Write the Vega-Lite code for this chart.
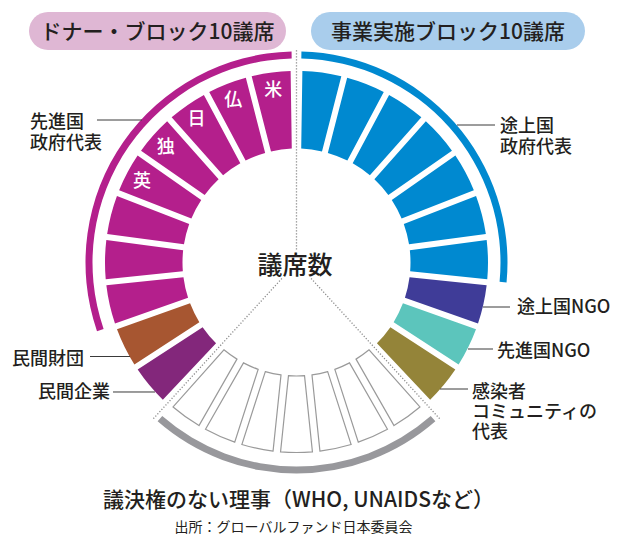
{
  "$schema": "https://vega.github.io/schema/vega-lite/v6.json",
  "width": 619,
  "height": 536,
  "autosize": {"type": "none"},
  "padding": 0,
  "background": "white",
  "config": {"view": {"stroke": null}, "text": {"font": "Noto Sans CJK JP"}},
  "datasets": {
    "seats": [
      {"block": "ドナー", "category": "民間企業", "o": 1, "label": "", "seats": 1},
      {"block": "ドナー", "category": "民間財団", "o": 2, "label": "", "seats": 1},
      {"block": "ドナー", "category": "先進国政府代表", "o": 3, "label": "", "seats": 1},
      {"block": "ドナー", "category": "先進国政府代表", "o": 4, "label": "", "seats": 1},
      {"block": "ドナー", "category": "先進国政府代表", "o": 5, "label": "", "seats": 1},
      {"block": "ドナー", "category": "先進国政府代表", "o": 6, "label": "英", "seats": 1},
      {"block": "ドナー", "category": "先進国政府代表", "o": 7, "label": "独", "seats": 1},
      {"block": "ドナー", "category": "先進国政府代表", "o": 8, "label": "日", "seats": 1},
      {"block": "ドナー", "category": "先進国政府代表", "o": 9, "label": "仏", "seats": 1},
      {"block": "ドナー", "category": "先進国政府代表", "o": 10, "label": "米", "seats": 1},
      {"block": "事業実施", "category": "途上国政府代表", "o": 1, "label": "", "seats": 1},
      {"block": "事業実施", "category": "途上国政府代表", "o": 2, "label": "", "seats": 1},
      {"block": "事業実施", "category": "途上国政府代表", "o": 3, "label": "", "seats": 1},
      {"block": "事業実施", "category": "途上国政府代表", "o": 4, "label": "", "seats": 1},
      {"block": "事業実施", "category": "途上国政府代表", "o": 5, "label": "", "seats": 1},
      {"block": "事業実施", "category": "途上国政府代表", "o": 6, "label": "", "seats": 1},
      {"block": "事業実施", "category": "途上国政府代表", "o": 7, "label": "", "seats": 1},
      {"block": "事業実施", "category": "途上国NGO", "o": 8, "label": "", "seats": 1},
      {"block": "事業実施", "category": "先進国NGO", "o": 9, "label": "", "seats": 1},
      {"block": "事業実施", "category": "感染者コミュニティの代表", "o": 10, "label": "", "seats": 1},
      {"block": "議決権なし", "category": "議決権のない理事", "o": 1, "label": "", "seats": 1},
      {"block": "議決権なし", "category": "議決権のない理事", "o": 2, "label": "", "seats": 1},
      {"block": "議決権なし", "category": "議決権のない理事", "o": 3, "label": "", "seats": 1},
      {"block": "議決権なし", "category": "議決権のない理事", "o": 4, "label": "", "seats": 1},
      {"block": "議決権なし", "category": "議決権のない理事", "o": 5, "label": "", "seats": 1},
      {"block": "議決権なし", "category": "議決権のない理事", "o": 6, "label": "", "seats": 1},
      {"block": "議決権なし", "category": "議決権のない理事", "o": 7, "label": "", "seats": 1}
    ],
    "dividers": [
      {"x": 0, "y": 0.068, "x2": 0, "y2": 1.112},
      {"x": -0.0763, "y": -0.0833, "x2": -0.7513, "y2": -0.8199},
      {"x": 0.0763, "y": -0.0833, "x2": 0.7513, "y2": -0.8199}
    ],
    "pills": [
      {"block": "ドナー", "x": -1.3969, "x2": -0.0548, "y": 1.3081, "y2": 1.1097},
      {"block": "事業実施", "x": 0.0757, "x2": 1.5065, "y": 1.3081, "y2": 1.1097}
    ],
    "notes": [
      {"role": "header", "text": "ドナー・ブロック10議席", "x": -0.7258, "y": 1.2},
      {"role": "header", "text": "事業実施ブロック10議席", "x": 0.7911, "y": 1.2},
      {"role": "center", "text": "議席数", "x": -0.008, "y": -0.0157},
      {"role": "caption", "text": "議決権のない理事（WHO, UNAIDSなど）", "x": 0.0104, "y": -1.2439},
      {"role": "source", "text": "出所：グローバルファンド日本委員会", "x": -0.0157, "y": -1.3875},
      {"role": "labelL", "text": "先進国", "x": -1.3916, "y": 0.7775},
      {"role": "labelL", "text": "政府代表", "x": -1.3916, "y": 0.6653},
      {"role": "labelR", "text": "民間財団", "x": -1.1097, "y": -0.4627},
      {"role": "labelR", "text": "民間企業", "x": -0.9739, "y": -0.635},
      {"role": "labelL", "text": "途上国", "x": 1.0627, "y": 0.7567},
      {"role": "labelL", "text": "政府代表", "x": 1.0627, "y": 0.6444},
      {"role": "labelL", "text": "途上国NGO", "x": 1.1514, "y": -0.1911},
      {"role": "labelL", "text": "先進国NGO", "x": 1.047, "y": -0.4183},
      {"role": "labelL", "text": "感染者", "x": 0.9164, "y": -0.635},
      {"role": "labelL", "text": "コミュニティの", "x": 0.9164, "y": -0.7368},
      {"role": "labelL", "text": "代表", "x": 0.9164, "y": -0.8439}
    ],
    "leaders": [
      {"x": -1.0418, "x2": -0.8068, "y": 0.7441},
      {"x": -1.0783, "x2": -0.8695, "y": -0.4909},
      {"x": -0.9582, "x2": -0.7389, "y": -0.6762},
      {"x": 0.8381, "x2": 1.0366, "y": 0.718},
      {"x": 0.9739, "x2": 1.1149, "y": -0.2324},
      {"x": 0.8956, "x2": 1.0261, "y": -0.4517},
      {"x": 0.7493, "x2": 0.8956, "y": -0.6606}
    ]
  },
  "layer": [
    {
      "data": {"name": "dividers"},
      "mark": {"type": "rule", "stroke": "#8c8c8c", "strokeWidth": 1.3, "strokeDash": [1.2, 1.8]},
      "encoding": {
        "x": {"field": "x", "type": "quantitative", "scale": {"domain": [-1.5483, 1.6841], "nice": false}, "axis": null},
        "y": {"field": "y", "type": "quantitative", "scale": {"domain": [-1.4282, 1.3708], "nice": false}, "axis": null},
        "x2": {"field": "x2"},
        "y2": {"field": "y2"}
      }
    },
    {
      "data": {"name": "pills"},
      "mark": {"type": "rect", "cornerRadius": 19},
      "encoding": {
        "x": {"field": "x", "type": "quantitative", "scale": {"domain": [-1.5483, 1.6841], "nice": false}, "axis": null},
        "y": {"field": "y", "type": "quantitative", "scale": {"domain": [-1.4282, 1.3708], "nice": false}, "axis": null},
        "x2": {"field": "x2"},
        "y2": {"field": "y2"},
        "fill": {"field": "block", "type": "nominal", "scale": {"domain": ["ドナー", "事業実施"], "range": ["#dfb7d4", "#a9cdec"]}, "legend": null}
      }
    },
    {
      "data": {"name": "seats"},
      "transform": [{"filter": "datum.block === 'ドナー'"}],
      "mark": {"type": "arc", "radius": 191.5, "radius2": 114, "padAngle": 0.027},
      "encoding": {
        "x": {"datum": 0, "type": "quantitative", "scale": {"domain": [-1.5483, 1.6841], "nice": false}, "axis": null},
        "y": {"datum": 0, "type": "quantitative", "scale": {"domain": [-1.4282, 1.3708], "nice": false}, "axis": null},
        "theta": {"field": "seats", "type": "quantitative", "stack": true, "scale": {"domain": [0, 10], "range": [-2.3848, -0.015]}},
        "order": {"field": "o", "type": "quantitative"},
        "color": {"field": "category", "type": "nominal", "legend": null, "scale": {"domain": ["先進国政府代表", "民間財団", "民間企業", "途上国政府代表", "途上国NGO", "先進国NGO", "感染者コミュニティの代表"], "range": ["#b41f8c", "#a75631", "#83277b", "#0089d0", "#3f3c98", "#5cc5bc", "#948439"]}}
      }
    },
    {
      "data": {"name": "seats"},
      "transform": [{"filter": "datum.block === 'ドナー'"}],
      "mark": {"type": "text", "radius": 175, "fontSize": 18, "fontWeight": 500, "fill": "white", "align": "center", "baseline": "middle", "dy": 1.5},
      "encoding": {
        "x": {"datum": 0, "type": "quantitative", "scale": {"domain": [-1.5483, 1.6841], "nice": false}, "axis": null},
        "y": {"datum": 0, "type": "quantitative", "scale": {"domain": [-1.4282, 1.3708], "nice": false}, "axis": null},
        "theta": {"field": "seats", "type": "quantitative", "stack": true, "scale": {"domain": [0, 10], "range": [-2.3848, -0.015]}},
        "order": {"field": "o", "type": "quantitative"},
        "text": {"field": "label"}
      }
    },
    {
      "data": {"name": "seats"},
      "transform": [
        {"filter": "datum.block === 'ドナー'"},
        {"aggregate": [{"op": "sum", "field": "seats", "as": "seats"}, {"op": "min", "field": "o", "as": "o"}], "groupby": ["category"]}
      ],
      "mark": {"type": "arc", "radius": 211, "radius2": 204, "padAngle": 0.012},
      "encoding": {
        "x": {"datum": 0, "type": "quantitative", "scale": {"domain": [-1.5483, 1.6841], "nice": false}, "axis": null},
        "y": {"datum": 0, "type": "quantitative", "scale": {"domain": [-1.4282, 1.3708], "nice": false}, "axis": null},
        "theta": {"field": "seats", "type": "quantitative", "stack": true, "scale": {"domain": [0, 10], "range": [-2.3848, -0.015]}},
        "order": {"field": "o", "type": "quantitative"},
        "color": {"field": "category", "type": "nominal", "legend": null, "scale": {"domain": ["先進国政府代表", "民間財団", "民間企業", "途上国政府代表", "途上国NGO", "先進国NGO", "感染者コミュニティの代表"], "range": ["#b41f8c", "#a75631", "#83277b", "#0089d0", "#3f3c98", "#5cc5bc", "#948439"]}},
        "opacity": {"condition": {"test": "datum.category === '先進国政府代表'", "value": 1}, "value": 0}
      }
    },
    {
      "data": {"name": "seats"},
      "transform": [{"filter": "datum.block === '事業実施'"}],
      "mark": {"type": "arc", "radius": 191.5, "radius2": 114, "padAngle": 0.027},
      "encoding": {
        "x": {"datum": 0, "type": "quantitative", "scale": {"domain": [-1.5483, 1.6841], "nice": false}, "axis": null},
        "y": {"datum": 0, "type": "quantitative", "scale": {"domain": [-1.4282, 1.3708], "nice": false}, "axis": null},
        "theta": {"field": "seats", "type": "quantitative", "stack": true, "scale": {"domain": [0, 10], "range": [0.015, 2.3848]}},
        "order": {"field": "o", "type": "quantitative"},
        "color": {"field": "category", "type": "nominal", "legend": null, "scale": {"domain": ["先進国政府代表", "民間財団", "民間企業", "途上国政府代表", "途上国NGO", "先進国NGO", "感染者コミュニティの代表"], "range": ["#b41f8c", "#a75631", "#83277b", "#0089d0", "#3f3c98", "#5cc5bc", "#948439"]}}
      }
    },
    {
      "data": {"name": "seats"},
      "transform": [
        {"filter": "datum.block === '事業実施'"},
        {"aggregate": [{"op": "sum", "field": "seats", "as": "seats"}, {"op": "min", "field": "o", "as": "o"}], "groupby": ["category"]}
      ],
      "mark": {"type": "arc", "radius": 211, "radius2": 204, "padAngle": 0.012},
      "encoding": {
        "x": {"datum": 0, "type": "quantitative", "scale": {"domain": [-1.5483, 1.6841], "nice": false}, "axis": null},
        "y": {"datum": 0, "type": "quantitative", "scale": {"domain": [-1.4282, 1.3708], "nice": false}, "axis": null},
        "theta": {"field": "seats", "type": "quantitative", "stack": true, "scale": {"domain": [0, 10], "range": [0.015, 2.3848]}},
        "order": {"field": "o", "type": "quantitative"},
        "color": {"field": "category", "type": "nominal", "legend": null, "scale": {"domain": ["先進国政府代表", "民間財団", "民間企業", "途上国政府代表", "途上国NGO", "先進国NGO", "感染者コミュニティの代表"], "range": ["#b41f8c", "#a75631", "#83277b", "#0089d0", "#3f3c98", "#5cc5bc", "#948439"]}},
        "opacity": {"condition": {"test": "datum.category === '途上国政府代表'", "value": 1}, "value": 0}
      }
    },
    {
      "data": {"name": "seats"},
      "transform": [{"filter": "datum.block === '議決権なし'"}],
      "mark": {"type": "arc", "radius": 190, "radius2": 113.5, "padAngle": 0.034, "fill": "white", "stroke": "#9a9a9a", "strokeWidth": 1.2},
      "encoding": {
        "x": {"datum": 0, "type": "quantitative", "scale": {"domain": [-1.5483, 1.6841], "nice": false}, "axis": null},
        "y": {"datum": 0, "type": "quantitative", "scale": {"domain": [-1.4282, 1.3708], "nice": false}, "axis": null},
        "theta": {"field": "seats", "type": "quantitative", "stack": true, "scale": {"domain": [0, 7], "range": [2.4148, 3.8684]}},
        "order": {"field": "o", "type": "quantitative"}
      }
    },
    {
      "data": {"name": "seats"},
      "transform": [
        {"filter": "datum.block === '議決権なし'"},
        {"aggregate": [{"op": "sum", "field": "seats", "as": "seats"}, {"op": "min", "field": "o", "as": "o"}], "groupby": ["category"]}
      ],
      "mark": {"type": "arc", "radius": 211, "radius2": 204, "padAngle": 0.012, "fill": "#98989c"},
      "encoding": {
        "x": {"datum": 0, "type": "quantitative", "scale": {"domain": [-1.5483, 1.6841], "nice": false}, "axis": null},
        "y": {"datum": 0, "type": "quantitative", "scale": {"domain": [-1.4282, 1.3708], "nice": false}, "axis": null},
        "theta": {"field": "seats", "type": "quantitative", "stack": true, "scale": {"domain": [0, 7], "range": [2.4148, 3.8684]}},
        "order": {"field": "o", "type": "quantitative"}
      }
    },
    {
      "data": {"name": "leaders"},
      "mark": {"type": "rule", "stroke": "#3a3a3a", "strokeWidth": 1},
      "encoding": {
        "x": {"field": "x", "type": "quantitative", "scale": {"domain": [-1.5483, 1.6841], "nice": false}, "axis": null},
        "y": {"field": "y", "type": "quantitative", "scale": {"domain": [-1.4282, 1.3708], "nice": false}, "axis": null},
        "x2": {"field": "x2"}
      }
    },
    {
      "data": {"name": "notes"},
      "transform": [{"filter": "datum.role === 'header'"}],
      "mark": {"type": "text", "fontSize": 21, "fontWeight": 500, "fill": "#231f20", "align": "center", "baseline": "middle"},
      "encoding": {
        "x": {"field": "x", "type": "quantitative", "scale": {"domain": [-1.5483, 1.6841], "nice": false}, "axis": null},
        "y": {"field": "y", "type": "quantitative", "scale": {"domain": [-1.4282, 1.3708], "nice": false}, "axis": null},
        "text": {"field": "text"}
      }
    },
    {
      "data": {"name": "notes"},
      "transform": [{"filter": "datum.role === 'center'"}],
      "mark": {"type": "text", "fontSize": 25, "fontWeight": 500, "fill": "#231f20", "align": "center", "baseline": "middle"},
      "encoding": {
        "x": {"field": "x", "type": "quantitative", "scale": {"domain": [-1.5483, 1.6841], "nice": false}, "axis": null},
        "y": {"field": "y", "type": "quantitative", "scale": {"domain": [-1.4282, 1.3708], "nice": false}, "axis": null},
        "text": {"field": "text"}
      }
    },
    {
      "data": {"name": "notes"},
      "transform": [{"filter": "datum.role === 'caption'"}],
      "mark": {"type": "text", "fontSize": 21, "fontWeight": 500, "fill": "#231f20", "align": "center", "baseline": "middle"},
      "encoding": {
        "x": {"field": "x", "type": "quantitative", "scale": {"domain": [-1.5483, 1.6841], "nice": false}, "axis": null},
        "y": {"field": "y", "type": "quantitative", "scale": {"domain": [-1.4282, 1.3708], "nice": false}, "axis": null},
        "text": {"field": "text"}
      }
    },
    {
      "data": {"name": "notes"},
      "transform": [{"filter": "datum.role === 'source'"}],
      "mark": {"type": "text", "fontSize": 14, "fontWeight": 400, "fill": "#231f20", "align": "center", "baseline": "middle"},
      "encoding": {
        "x": {"field": "x", "type": "quantitative", "scale": {"domain": [-1.5483, 1.6841], "nice": false}, "axis": null},
        "y": {"field": "y", "type": "quantitative", "scale": {"domain": [-1.4282, 1.3708], "nice": false}, "axis": null},
        "text": {"field": "text"}
      }
    },
    {
      "data": {"name": "notes"},
      "transform": [{"filter": "datum.role === 'labelL'"}],
      "mark": {"type": "text", "fontSize": 18, "fontWeight": 500, "fill": "#231f20", "align": "left", "baseline": "top"},
      "encoding": {
        "x": {"field": "x", "type": "quantitative", "scale": {"domain": [-1.5483, 1.6841], "nice": false}, "axis": null},
        "y": {"field": "y", "type": "quantitative", "scale": {"domain": [-1.4282, 1.3708], "nice": false}, "axis": null},
        "text": {"field": "text"}
      }
    },
    {
      "data": {"name": "notes"},
      "transform": [{"filter": "datum.role === 'labelR'"}],
      "mark": {"type": "text", "fontSize": 18, "fontWeight": 500, "fill": "#231f20", "align": "right", "baseline": "top"},
      "encoding": {
        "x": {"field": "x", "type": "quantitative", "scale": {"domain": [-1.5483, 1.6841], "nice": false}, "axis": null},
        "y": {"field": "y", "type": "quantitative", "scale": {"domain": [-1.4282, 1.3708], "nice": false}, "axis": null},
        "text": {"field": "text"}
      }
    }
  ],
  "resolve": {"scale": {"theta": "independent"}}
}
